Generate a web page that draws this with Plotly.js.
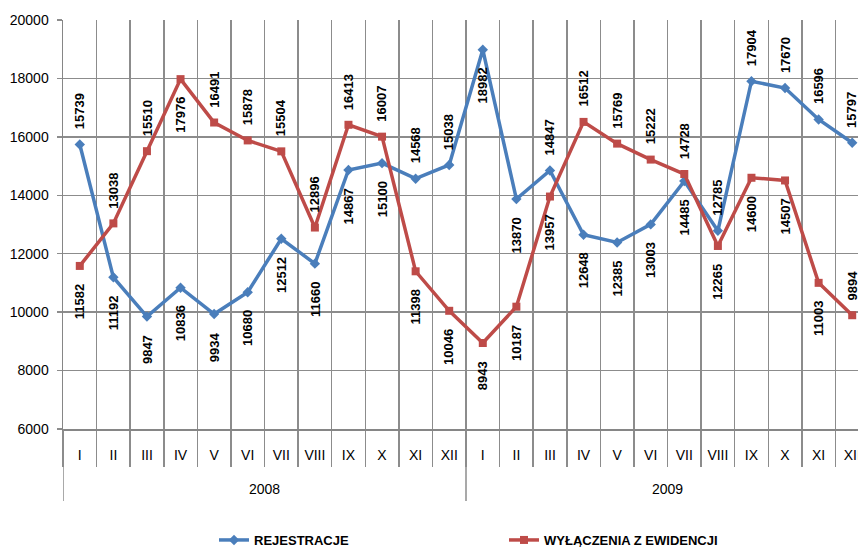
<!DOCTYPE html>
<html><head><meta charset="utf-8">
<script src="https://cdn.plot.ly/plotly-3.0.1.min.js"></script>
<style>html,body{margin:0;padding:0;overflow:hidden;background:#fff;width:858px;height:547px}#chart{width:875px;height:560px}</style>
</head><body><div id="chart"></div>
<script>
const years = ['2008', '2009'];
const months = ['I','II','III','IV','V','VI','VII','VIII','IX','X','XI','XII'];
const rejestracje = [15739, 11192, 9847, 10836, 9934, 10680, 12512, 11660, 14867, 15100, 14568, 15038,
                     18982, 13870, 14847, 12648, 12385, 13003, 14485, 12785, 17904, 17670, 16596, 15797];
const wylaczenia = [11582, 13038, 15510, 17976, 16491, 15878, 15504, 12896, 16413, 16007, 11398, 10046,
                    8943, 10187, 13957, 16512, 15769, 15222, 14728, 12265, 14600, 14507, 11003, 9894];
// label placement (a = above, b = below)
const rejLabelPos = ['a','b','b','b','b','b','b','b','b','b','a','a',
                     'b','b','a','b','b','b','b','a','a','a','a','a'];
const wylLabelPos = ['b','a','a','b','a','a','a','a','a','a','b','b',
                     'b','b','b','a','a','a','a','b','b','b','b','a'];

const FONT = 'Liberation Sans, Arial, sans-serif';
const BLUE = '#4A7EBB';
const RED = '#BE4B48';
const GRID = '#8c8c8c';

const n = years.length * months.length;
const xs = [];
const tickText = [];
years.forEach((y, yi) => months.forEach((m, mi) => { xs.push(yi * months.length + mi); tickText.push(m); }));
const bounds = [];
for (let i = 0; i <= n; i++) bounds.push(i - 0.5);

const traces = [
  {x: xs, y: rejestracje, type: 'scatter', mode: 'lines+markers', name: 'REJESTRACJE',
   line: {color: BLUE, width: 3.5}, marker: {symbol: 'diamond', size: 8, color: BLUE}},
  {x: xs, y: wylaczenia, type: 'scatter', mode: 'lines+markers', name: 'WYŁĄCZENIA Z EWIDENCJI',
   line: {color: RED, width: 3.5}, marker: {symbol: 'square', size: 8, color: RED}}
];

const annotations = [];
function addLabels(vals, pos) {
  vals.forEach((v, i) => {
    const above = pos[i] === 'a';
    annotations.push({x: xs[i], y: v, xref: 'x', yref: 'y', text: '<b>' + v + '</b>', textangle: -90,
      showarrow: false, xanchor: 'center', yanchor: above ? 'bottom' : 'top', yshift: above ? 13 : -16,
      font: {family: FONT, size: 13, color: '#000'}});
  });
}
addLabels(rejestracje, rejLabelPos);
addLabels(wylaczenia, wylLabelPos);
years.forEach((y, yi) => {
  annotations.push({x: yi * months.length + (months.length - 1) / 2, y: -0.146, xref: 'x', yref: 'paper',
    text: y, showarrow: false, xanchor: 'center', yanchor: 'middle', font: {family: FONT, size: 14, color: '#000'}});
});

const shapes = [];
for (let yi = 0; yi <= years.length; yi++) {
  const bx = yi * months.length - 0.5;
  shapes.push({type: 'line', xref: 'x', yref: 'paper', x0: bx, x1: bx, y0: 0, y1: -0.176,
    line: {color: GRID, width: 1.5}});
}

const layout = {
  width: 875, height: 560,
  margin: {l: 63, r: 6, t: 20, b: 130},
  paper_bgcolor: '#fff', plot_bgcolor: '#fff',
  showlegend: true,
  legend: {orientation: 'h', x: (214 - 63) / 806, xanchor: 'left', y: -(540 - 430) / 410, yanchor: 'middle',
    entrywidth: 245, entrywidthmode: 'pixels', bgcolor: 'rgba(0,0,0,0)',
    font: {family: FONT, size: 13, color: '#000', weight: 'bold'}},
  xaxis: {range: [-0.5, n - 0.5], tickmode: 'array', tickvals: xs, ticktext: tickText, ticks: '',
    showgrid: false, zeroline: false, showline: true, linecolor: '#868686', linewidth: 2,
    tickfont: {family: FONT, size: 14, color: '#000'}, ticklabelstandoff: 12,
    minor: {tickmode: 'array', tickvals: bounds, ticks: 'outside', ticklen: 36, tickwidth: 1.5, tickcolor: GRID,
      showgrid: true, gridcolor: GRID, gridwidth: 1.5}},
  yaxis: {range: [6000, 20000], tick0: 0, dtick: 2000, tickformat: 'd', ticks: 'outside', ticklen: 5, tickcolor: GRID, tickwidth: 1.5,
    showgrid: true, gridcolor: GRID, gridwidth: 1.5, zeroline: false, showline: true, linecolor: '#868686', linewidth: 1.5,
    ticklabelstandoff: 5,
    tickfont: {family: FONT, size: 14, color: '#000'}},
  annotations: annotations,
  shapes: shapes
};

Plotly.newPlot('chart', traces, layout, {displayModeBar: false, staticPlot: true});
</script>
</body></html>
